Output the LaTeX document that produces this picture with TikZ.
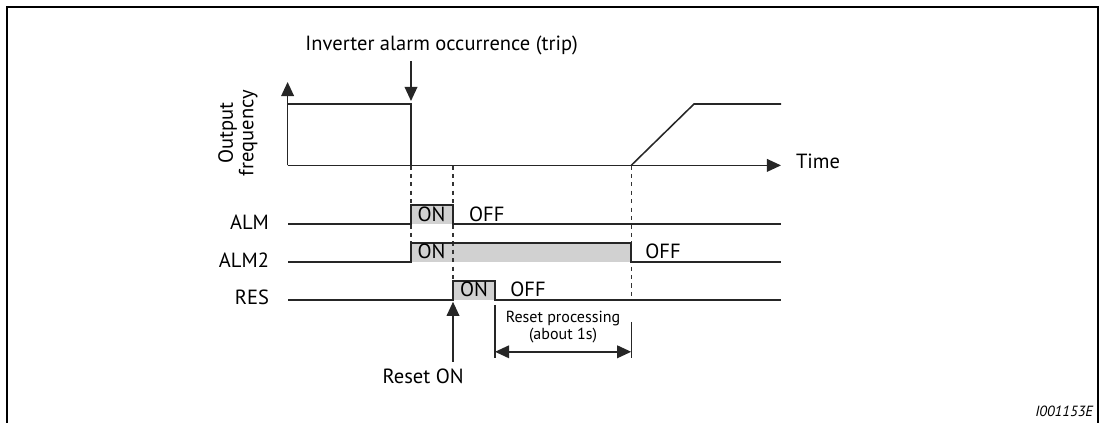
\documentclass[tikz,border=0pt]{standalone}
\usepackage{fontspec}
\setmainfont{PT Sans}
\usetikzlibrary{positioning,arrows.meta}

\begin{document}
\begin{tikzpicture}[>={Triangle[length=10pt,width=9pt]}, line width=0.9pt,
  every node/.style={font=\fontsize{14.6}{16}\selectfont, inner sep=1pt},
  sig/.style={draw=black!85, line width=1.1pt},
  guide/.style={draw=black!80, line width=0.8pt, dash pattern=on 3pt off 3pt},
  onfill/.style={fill=black!18, draw=none},
  small/.style={font=\fontsize{11.4}{12.2}\selectfont, align=center}]
  \useasboundingbox (0,0) rectangle (27.575,10.575);
  % frame
  \draw[line width=1.5pt] (0.175,0) -- (0.175,10.4) -- (27.45,10.4) -- (27.45,0);

  % key instants
  \coordinate (trip) at (10.275,6.44);
  \coordinate (rst) at (11.325,6.44);
  \coordinate (rdy) at (15.78,6.44);

  % grey ON areas
  \fill[onfill] (10.275,4.97) rectangle (11.325,5.45);
  \fill[onfill] (10.275,4.02) rectangle (15.78,4.5);
  \fill[onfill] (11.325,3.075) rectangle (12.375,3.55);

  % dashed guides
  \draw[guide] (trip) -- (10.275,4.5);
  \draw[guide] (rst) -- (11.325,3.55);
  \draw[guide] (rdy) -- (15.78,3.075);

  % output frequency
  \coordinate (o) at (7.19,6.44);
  \coordinate (ytop) at (7.19,8.525);
  \coordinate (tend) at (19.525,6.44);
  \draw[sig, ->] (o) -- (ytop);
  \draw[sig, ->] (o) -- (tend);
  \draw[sig] (o) |- (10.275,7.975) -- (trip);
  \draw[sig] (rdy) -- (17.35,7.975) -- (19.525,7.975);
  \node[anchor=west] (time) at (19.85,6.55) {Time};
  \node[rotate=90, align=center, font=\fontsize{14.6}{14.6}\selectfont] (ylab) at (5.95,7.25) {Output\\frequency};

  % trip marker
  \node (tripl) at (11.04,9.45) {Inverter alarm occurrence (trip)};
  \coordinate (tripa) at (10.275,9.05);
  \draw[sig, ->] (tripa) -- (10.275,8.05);

  % signals
  \node[anchor=east] (alm) at (6.775,5.03) {ALM};
  \node[anchor=east] (alm2) at (6.775,4.08) {ALM2};
  \node[anchor=east] (res) at (6.775,3.13) {RES};
  \draw[sig] (7.21,4.97) -- (10.275,4.97) -- (10.275,5.45) -- (11.325,5.45)
    -- (11.325,4.97) -- (19.525,4.97);
  \draw[sig] (7.21,4.02) -- (10.275,4.02) -- (10.275,4.5) -- (15.78,4.5)
    -- (15.78,4.02) -- (19.525,4.02);
  \draw[sig] (7.21,3.075) -- (11.325,3.075) -- (11.325,3.55) -- (12.375,3.55)
    -- (12.375,3.075) -- (19.525,3.075);
  \node (on1) at (10.79,5.225) {ON};
  \node (off1) at (12.17,5.225) {OFF};
  \node (on2) at (10.79,4.29) {ON};
  \node (off2) at (16.575,4.29) {OFF};
  \node (on3) at (11.85,3.33) {ON};
  \node (off3) at (13.2,3.33) {OFF};

  % reset input
  \node (rston) at (10.58,1.16) {Reset ON};
  \coordinate (rsta) at (11.325,1.525);
  \draw[sig, ->] (rsta) -- (11.325,3.03);

  % reset processing time
  \draw[sig, line width=0.8pt] (12.375,2.95) -- (12.375,1.625);
  \draw[sig, line width=0.8pt] (15.78,2.53) -- (15.78,1.625);
  \coordinate (pa) at (12.375,1.78);
  \coordinate (pb) at (15.78,1.78);
  \draw[sig, <->] (pa) -- (pb);
  \node[small] (proc) at (14.075,2.4) {Reset processing\\(about 1s)};

  \node[anchor=east, font=\fontsize{10.5}{11.5}\selectfont\itshape] (fig) at (27.375,0.28) {I001153E};
\end{tikzpicture}
\end{document}
